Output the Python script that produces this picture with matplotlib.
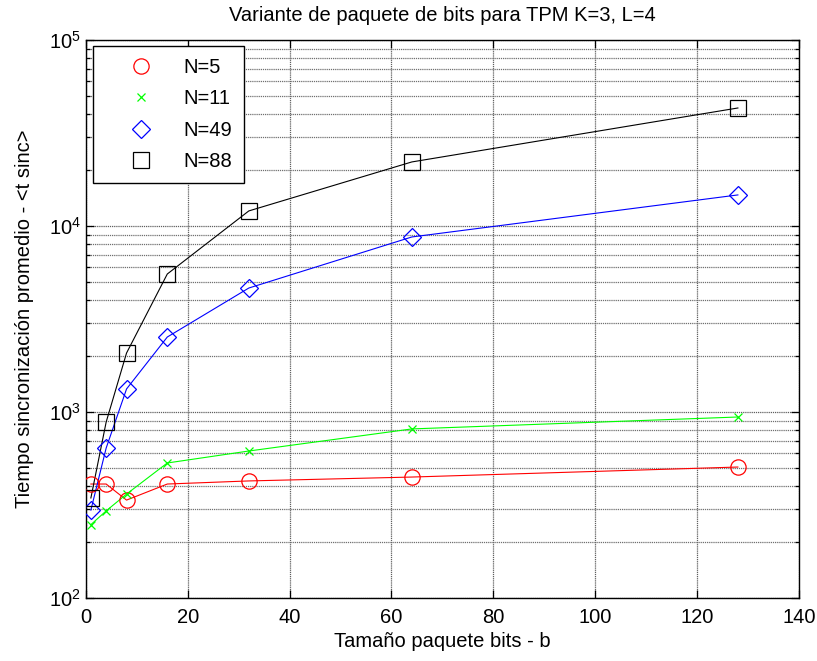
import matplotlib
matplotlib.use("Agg")
import matplotlib.pyplot as plt
from matplotlib.lines import Line2D
from matplotlib.ticker import LogLocator, LogFormatterMathtext, NullFormatter, MultipleLocator

plt.rcParams['font.family'] = ['Liberation Sans', 'DejaVu Sans']
plt.rcParams['mathtext.default'] = 'regular'

bits = [1, 4, 8, 16, 32, 64, 128]
n5 = [410, 410, 336, 410, 426, 447, 506]
n11 = [248, 294, 362, 532, 617, 811, 940]
n49 = [297, 640, 1330, 2530, 4640, 8730, 14690]
n88 = [345, 883, 2075, 5520, 12050, 22100, 43100]
labels = ['N=5', 'N=11', 'N=49', 'N=88']

fig = plt.figure(figsize=(8.17, 6.61), dpi=100)
ax = fig.add_axes([0.105, 0.0953, 0.873, 0.8442])

styles = [
    (n5, 'o', 11, '#ff0000'),
    (n11, 'x', 6, '#00ff00'),
    (n49, 'D', 9, '#0000ff'),
    (n88, 's', 11, '#000000'),
]
handles = []
for (vals, mk, ms, col), lab in zip(styles, labels):
    ax.plot(bits, vals, color=col, lw=0.8, zorder=3)
    ax.plot(bits, vals, linestyle='none', marker=mk, ms=ms, mfc='none', mec=col, mew=0.9, zorder=4)
    handles.append(Line2D([], [], linestyle='none', marker=mk, ms=ms, mfc='none', mec=col, mew=0.9, label=lab))

ax.set_yscale('log')
ax.set_xlim(0, 140)
ax.set_ylim(1e2, 1e5)
ax.xaxis.set_major_locator(MultipleLocator(20))
ax.yaxis.set_major_locator(LogLocator(base=10, numticks=10))
ax.yaxis.set_major_formatter(LogFormatterMathtext())
ax.yaxis.set_minor_locator(LogLocator(base=10, subs=range(2, 10), numticks=10))
ax.yaxis.set_minor_formatter(NullFormatter())

ax.grid(True, which='major', axis='both', color='#606060', linestyle=(0, (1, 0.7)), lw=0.9)
ax.grid(True, which='minor', axis='y', color='#707070', linestyle=(0, (1, 0.7)), lw=0.9)

ax.tick_params(which='both', direction='in', top=True, right=True, labelsize=14.5)
ax.tick_params(which='major', length=6, width=0.9)
ax.tick_params(which='minor', length=3, width=0.9)
ax.tick_params(axis='x', pad=7)
for sp in ax.spines.values():
    sp.set_linewidth(1.0)
    sp.set_color('black')

ax.set_title('Variante de paquete de bits para TPM K=3, L=4', fontsize=14.5, pad=14)
ax.set_xlabel('Tamaño paquete bits - b', fontsize=14.5)
ax.set_ylabel('Tiempo sincronización promedio - <t sinc>', fontsize=14.5, labelpad=11)

leg = ax.legend(handles=handles, loc='upper left', bbox_to_anchor=(0.01, 0.99),
                borderaxespad=0.0,
                fontsize=14.5, frameon=True, fancybox=False, edgecolor='black',
                handlelength=3.6, handletextpad=0.3, borderpad=0.6, labelspacing=0.62)
leg.get_frame().set_linewidth(1.0)
leg.get_frame().set_alpha(1)

fig.savefig('out.png', dpi=100, facecolor='white')
